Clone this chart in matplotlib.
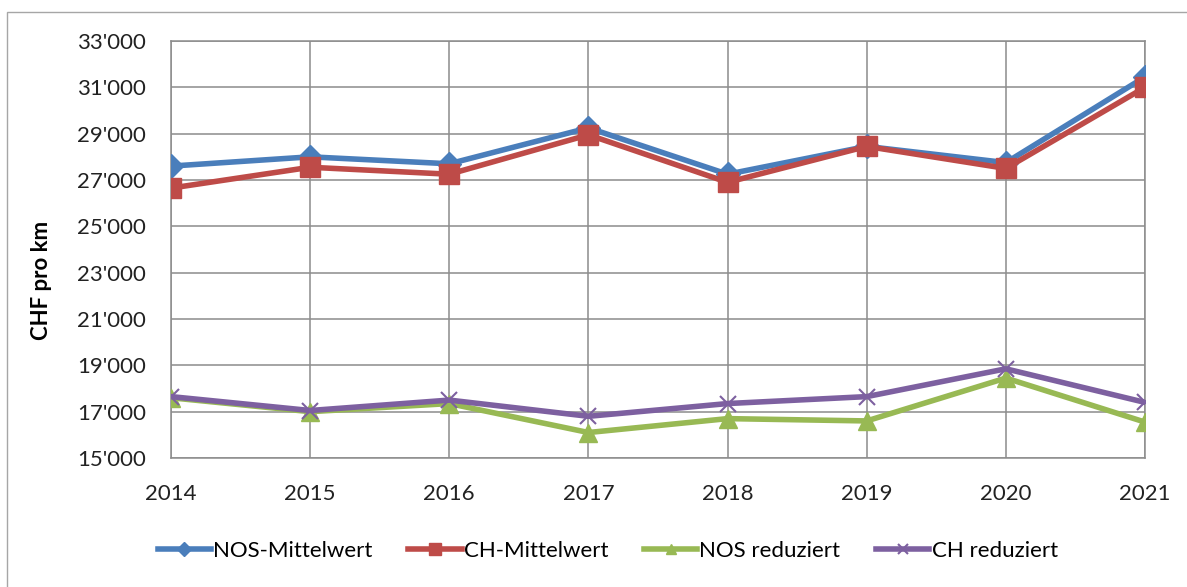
import matplotlib.pyplot as plt
from matplotlib.patches import Rectangle
from matplotlib.ticker import FuncFormatter

plt.rcParams['font.family'] = ['Lato', 'DejaVu Sans']

years = [2014, 2015, 2016, 2017, 2018, 2019, 2020, 2021]
nos_mittel = [27600, 28000, 27700, 29250, 27250, 28450, 27750, 31450]
ch_mittel = [26650, 27550, 27250, 28950, 26900, 28450, 27500, 31000]
nos_red = [17600, 17000, 17350, 16100, 16700, 16600, 18450, 16550]
ch_red = [17650, 17050, 17500, 16800, 17350, 17650, 18850, 17400]

fig = plt.figure(figsize=(11.87, 5.87), dpi=100)
ax = fig.add_axes([171 / 1187, 1 - 458 / 587, 974 / 1187, 417 / 587])

# outer frame of the chart area
fig.patches.append(Rectangle((7 / 1187, -0.1), 1.2, 1 - 12 / 587 + 0.1,
                             transform=fig.transFigure, fill=False,
                             edgecolor='#a6a6a6', linewidth=1.0))

ax.plot(years, nos_mittel, color='#4a7ebb', lw=4, marker='D', ms=12,
        label='NOS-Mittelwert', zorder=3)
ax.plot(years, ch_mittel, color='#be4b48', lw=4, marker='s', ms=14,
        label='CH-Mittelwert', zorder=4)
ax.plot(years, nos_red, color='#98b954', lw=4, marker='^', ms=13,
        label='NOS reduziert', zorder=5)
ax.plot(years, ch_red, color='#7d60a0', lw=4, marker='x', ms=12, mew=1.5,
        label='CH reduziert', zorder=6)

ax.set_xlim(2014, 2021)
ax.set_ylim(15000, 33000)
ax.set_xticks(years)
ax.set_yticks(range(15000, 33001, 2000))
ax.yaxis.set_major_formatter(FuncFormatter(lambda v, p: f"{int(v // 1000)}'000"))
ax.tick_params(length=0, labelsize=16, colors='#222222')
ax.tick_params(axis='y', pad=18)
ax.tick_params(axis='x', pad=19)
ax.grid(True, color='#8c8c8c', lw=1.1)
ax.set_axisbelow(True)
for s in ax.spines.values():
    s.set_color('#8c8c8c')
    s.set_linewidth(1.1)

ax.set_ylabel('CHF pro km', fontsize=16, fontweight='bold')
ax.yaxis.set_label_coords(-0.122, 0.427)

fig.legend(loc='center', bbox_to_anchor=(0.512, 1 - 551 / 587), ncol=4,
           frameon=False, fontsize=16, handlelength=2.4, handletextpad=0.1,
           columnspacing=1.6, markerscale=0.6)

fig.savefig('out.png', dpi=100)
